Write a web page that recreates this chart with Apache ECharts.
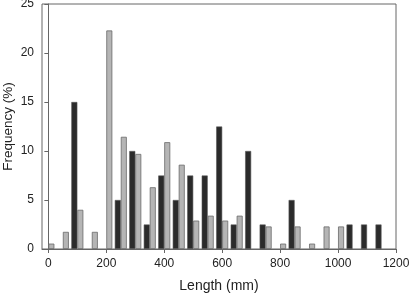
<!DOCTYPE html>
<html>
<head>
<meta charset="utf-8">
<script src="https://cdn.jsdelivr.net/npm/echarts@6/dist/echarts.min.js"></script>
<style>
  html, body { margin: 0; padding: 0; background: #fff; }
  #chart { width: 410px; height: 294px; }
</style>
</head>
<body>
<div id="chart"></div>
<script>
// bin centres (mm), bins of 50 mm
const bins = [0, 50, 100, 150, 200, 250, 300, 350, 400, 450, 500, 550,
  600, 650, 700, 750, 800, 850, 900, 950, 1000, 1050, 1100, 1150];
// dark series (left bar of each pair)
const darkFreq = [0, 0, 15, 0, 0, 5, 10, 2.5, 7.5, 5, 7.5, 7.5,
  12.5, 2.5, 10, 2.5, 0, 5, 0, 0, 0, 2.5, 2.5, 2.5];
// light series (right bar of each pair)
const lightFreq = [0.55, 1.75, 4, 1.75, 22.3, 11.45, 9.7, 6.3, 10.9, 8.6, 2.9, 3.4,
  2.9, 3.4, 0, 2.3, 0.55, 2.3, 0.55, 2.3, 2.3, 0, 0, 0];

const xTicks = [0, 200, 400, 600, 800, 1000, 1200];
const yTicks = [0, 5, 10, 15, 20, 25];

function toPairs(vals) {
  const out = [];
  bins.forEach((b, i) => {
    out.push([b, vals[i] > 0 ? vals[i] : null]);
  });
  return out;
}

const chart = echarts.init(document.getElementById("chart"));
const font = "Liberation Sans, Arial, sans-serif";

const option = {
  animation: false,
  grid: {
    left: 42, right: 14, top: 4, bottom: 45,
    outerBoundsMode: "none",
    containLabel: false,
    show: true, borderColor: "#666", borderWidth: 1,
  },
  xAxis: {
    type: "value",
    // axis starts a little left of 0, like the original
    min: -22,
    max: xTicks[xTicks.length - 1],
    name: "Length (mm)",
    nameLocation: "middle",
    nameGap: 30,
    nameTextStyle: { fontFamily: font, fontSize: 14, color: "#222" },
    axisLine: { show: true, lineStyle: { color: "#666" } },
    axisTick: { show: true, length: 4, customValues: xTicks, lineStyle: { color: "#666" } },
    axisLabel: {
      fontFamily: font, fontSize: 12, color: "#222", margin: 9,
      customValues: xTicks,
      formatter: (v) => String(v),
    },
    splitLine: { show: false },
  },
  yAxis: {
    type: "value",
    min: yTicks[0],
    max: yTicks[yTicks.length - 1],
    interval: 5,
    name: "Frequency (%)",
    nameLocation: "middle",
    nameGap: 27,
    nameMoveOverlap: false,
    nameTextStyle: { fontFamily: font, fontSize: 13.5, color: "#222" },
    axisLine: { show: true, lineStyle: { color: "#666" } },
    axisTick: { show: true, length: 4, lineStyle: { color: "#666" } },
    axisLabel: { fontFamily: font, fontSize: 12, color: "#222", margin: 8 },
    splitLine: { show: false },
  },
  series: [
    {
      type: "bar",
      name: "dark",
      data: toPairs(darkFreq),
      barWidth: 6,
      barGap: "0%",
      itemStyle: { color: "#2b2b2b", borderColor: "#555", borderWidth: 0.6 },
    },
    {
      type: "bar",
      name: "light",
      data: toPairs(lightFreq),
      barWidth: 6,
      barGap: "0%",
      itemStyle: { color: "#b5b5b5", borderColor: "#6a6a6a", borderWidth: 0.8 },
    },
  ],
};

chart.setOption(option);
</script>
</body>
</html>
